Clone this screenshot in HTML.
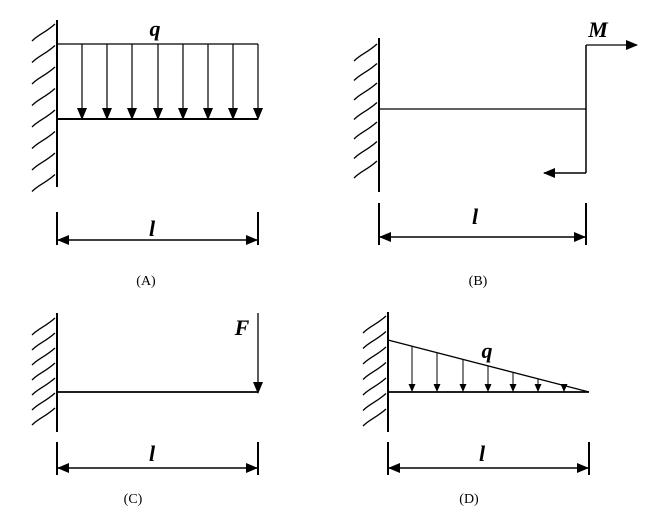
<!DOCTYPE html>
<html><head><meta charset="utf-8"><style>body{margin:0;background:#fff}svg{display:block}</style></head>
<body>
<svg id="s" width="659" height="514" viewBox="0 0 659 514" xmlns="http://www.w3.org/2000/svg" font-family="Liberation Serif, serif">
<defs>
<marker id="ah" markerWidth="12" markerHeight="10" refX="11" refY="5" orient="auto" markerUnits="userSpaceOnUse"><path d="M0,0L12,5L0,10Z" fill="#000"/></marker>
<marker id="sa" markerWidth="8" markerHeight="7" refX="8" refY="3.5" orient="auto" markerUnits="userSpaceOnUse"><path d="M0,0L8,3.5L0,7Z" fill="#000"/></marker>
</defs>
<g stroke="#000" fill="none" stroke-width="1.3" id="g">
<line x1="57" y1="20" x2="57" y2="187" stroke-width="2"/>
<line x1="57" y1="44" x2="258" y2="44"/>
<line x1="57" y1="119" x2="258" y2="119" stroke-width="2"/>
<line x1="379" y1="38" x2="379" y2="192" stroke-width="2"/>
<line x1="379" y1="109" x2="586" y2="109"/>
<line x1="586" y1="45" x2="586" y2="173" stroke-width="1.5"/>
<line x1="586" y1="45" x2="637" y2="45" marker-end="url(#ah)"/>
<line x1="586" y1="173" x2="544" y2="173" stroke-width="1.5" marker-end="url(#ah)"/>
<line x1="57" y1="313" x2="57" y2="432" stroke-width="2"/>
<line x1="57" y1="392" x2="258" y2="392" stroke-width="1.8"/>
<line x1="258" y1="313" x2="258" y2="393" marker-end="url(#ah)"/>
<line x1="388" y1="312" x2="388" y2="432" stroke-width="2"/>
<line x1="388" y1="392" x2="589" y2="392" stroke-width="1.8"/>
<line x1="388" y1="340" x2="589" y2="392"/>
</g>
<g font-style="italic" font-weight="bold" font-size="22" text-anchor="middle">
<text x="155" y="36">q</text>
<text x="598" y="37">M</text>
<text x="242" y="335">F</text>
<text x="487" y="358">q</text>
<text x="152" y="236">l</text>
<text x="475" y="224">l</text>
<text x="152" y="461">l</text>
<text x="482" y="461">l</text>
</g>
<g font-size="14" text-anchor="middle">
<text x="146" y="285">(A)</text>
<text x="478" y="285">(B)</text>
<text x="133" y="503">(C)</text>
<text x="469" y="503">(D)</text>
</g>
</svg>
<script>
var g=document.getElementById('g'),NS='http://www.w3.org/2000/svg';
function L(x1,y1,x2,y2,w,m){var l=document.createElementNS(NS,'line');l.setAttribute('x1',x1);l.setAttribute('y1',y1);l.setAttribute('x2',x2);l.setAttribute('y2',y2);if(w)l.setAttribute('stroke-width',w);if(m)l.setAttribute('marker-end',m);g.appendChild(l);}
function H(x,y0,y1,sp){for(var y=y0;y<=y1;y+=sp){var p=document.createElementNS(NS,'path');p.setAttribute('d','M'+(x-25)+','+(y+17)+' C'+(x-18)+','+(y+10)+' '+(x-12)+','+(y+9)+' '+(x-2)+','+y);g.appendChild(p);}}
H(57,24,176,21.5);H(379,44,180,19.5);H(57,318,420,15);H(388,316,420,15.5);
function D(x1,x2,yt,yb,ya){L(x1,yt,x1,yb,2);L(x2,yt,x2,yb,2);var m=(x1+x2)/2;L(m,ya,x1+1,ya,1.5,'url(#ah)');L(m,ya,x2-1,ya,1.5,'url(#ah)');}
D(57,258,212,245,240);D(379,586,203,245,237);D(57,258,442,475,468);D(388,589,442,475,468);
[82,107,132,158,183,208,233,258].forEach(function(x){L(x,44,x,119,1.2,'url(#ah)');});
[412,437,463,488,513,538,564].forEach(function(x){var y=340+(x-388)*52/201;L(x,y,x,392,1,'url(#sa)');});
</script>
</body></html>
